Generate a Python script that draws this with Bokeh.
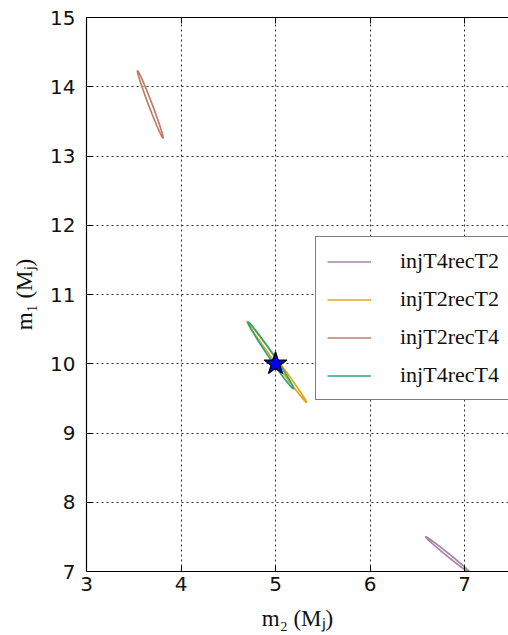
import numpy as np
from bokeh.plotting import figure
from bokeh.models import Range1d, Legend, LegendItem, FixedTicker, LinearAxis
from bokeh.embed import file_html
from bokeh.resources import INLINE

# ---- data ----
names = ["injT4recT2", "injT2recT2", "injT2recT4", "injT4recT4"]
colors = ["#a584a5", "#e5a51b", "#c07d68", "#2aa67c"]
# major-axis end points of each error ellipse (m2, m1)
x_start = [6.59, 4.70, 3.54, 4.71]
y_start = [7.50, 10.61, 14.23, 10.60]
x_end = [7.06, 5.33, 3.81, 5.19]
y_end = [6.98, 9.44, 13.26, 9.64]
minor_ratio = [0.05, 0.035, 0.05, 0.06]   # minor/major axis ratio
star_x = [5.0]
star_y = [10.0]
x_ticks = [3, 4, 5, 6, 7]
y_ticks = [7, 8, 9, 10, 11, 12, 13, 14, 15]

W, H = 508, 635
BL, BR, BT, BB = 86, 0, 17, 64
x_lo, y_lo, y_hi = 3.0, 7.0, 15.0
px_per_x = 94.5
fw = W - BL - BR
fh = H - BT - BB
x_hi = x_lo + fw / px_per_x
px_per_y = fh / (y_hi - y_lo)

p = figure(width=W, height=H, output_backend="svg", toolbar_location=None,
           x_range=Range1d(x_lo, x_hi), y_range=Range1d(y_lo, y_hi),
           min_border_left=BL, min_border_right=BR, min_border_top=BT,
           min_border_bottom=BB)
p.background_fill_color = "white"
p.border_fill_color = "white"
p.outline_line_color = None

# ellipse contours (computed in screen-proportional space from end points)
t = np.linspace(0, 2 * np.pi, 241)
items = []
for i, nm in enumerate(names):
    u1, v1 = x_start[i] * px_per_x, y_start[i] * px_per_y
    u2, v2 = x_end[i] * px_per_x, y_end[i] * px_per_y
    cu, cv = (u1 + u2) / 2, (v1 + v2) / 2
    au, av = (u2 - u1) / 2, (v2 - v1) / 2
    bu, bv = -av * minor_ratio[i], au * minor_ratio[i]
    xs = (cu + au * np.cos(t) + bu * np.sin(t)) / px_per_x
    ys = (cv + av * np.cos(t) + bv * np.sin(t)) / px_per_y
    r = p.line(list(xs), list(ys), line_color=colors[i], line_width=1.7)
    items.append(LegendItem(label=nm, renderers=[r]))

p.scatter(star_x, star_y, marker="star", size=24, fill_color="#0000ff",
          line_color="black", line_width=1.2)

legend = Legend(items=items, location=(229, 171))
legend.border_line_color = "black"
legend.border_line_width = 1.5
legend.background_fill_color = "white"
legend.background_fill_alpha = 1.0
legend.label_text_font = "Liberation Serif"
legend.label_text_font_size = "22px"
legend.label_text_color = "#111111"
legend.glyph_width = 44
legend.glyph_height = 25
legend.label_height = 25
legend.label_standoff = 29
legend.spacing = 12
legend.padding = 11
legend.margin = 0
p.add_layout(legend, "center")

x_axis = p.below[0]
y_axis = p.left[0]
x_axis.ticker = FixedTicker(ticks=x_ticks)
y_axis.ticker = FixedTicker(ticks=y_ticks)

top_axis = LinearAxis(ticker=FixedTicker(ticks=x_ticks))
p.add_layout(top_axis, "above")

for ax in (x_axis, y_axis, top_axis):
    ax.major_tick_in = 6
    ax.major_tick_out = 0
    ax.minor_tick_in = 0
    ax.minor_tick_out = 0
    ax.major_tick_line_color = "black"
    ax.axis_line_color = "black"
    ax.axis_line_width = 1.2
for ax in (x_axis, y_axis):
    ax.major_label_text_font = "DejaVu Sans"
    ax.major_label_text_font_size = "20px"
    ax.major_label_text_color = "#111111"
    ax.axis_label_text_font = "Liberation Serif"
    ax.axis_label_text_font_size = "23px"
    ax.axis_label_text_font_style = "normal"
    ax.axis_label_text_color = "#111111"
top_axis.major_label_text_color = None
top_axis.major_label_text_font_size = "1px"
top_axis.major_label_standoff = 0

x_axis.axis_label = "m\u2082 (M\u2c7c)"
y_axis.axis_label = "m\u2081 (M\u2c7c)"
x_axis.major_label_standoff = 5
y_axis.major_label_standoff = 11
x_axis.axis_label_standoff = 12
y_axis.axis_label_standoff = 10

p.grid.grid_line_color = "black"
p.grid.grid_line_alpha = 0.8
p.grid.grid_line_dash = "2 3"
p.grid.grid_line_width = 1
p.xgrid.ticker = FixedTicker(ticks=x_ticks)
p.ygrid.ticker = FixedTicker(ticks=y_ticks)

open("out.html", "w").write(file_html(p, INLINE))
